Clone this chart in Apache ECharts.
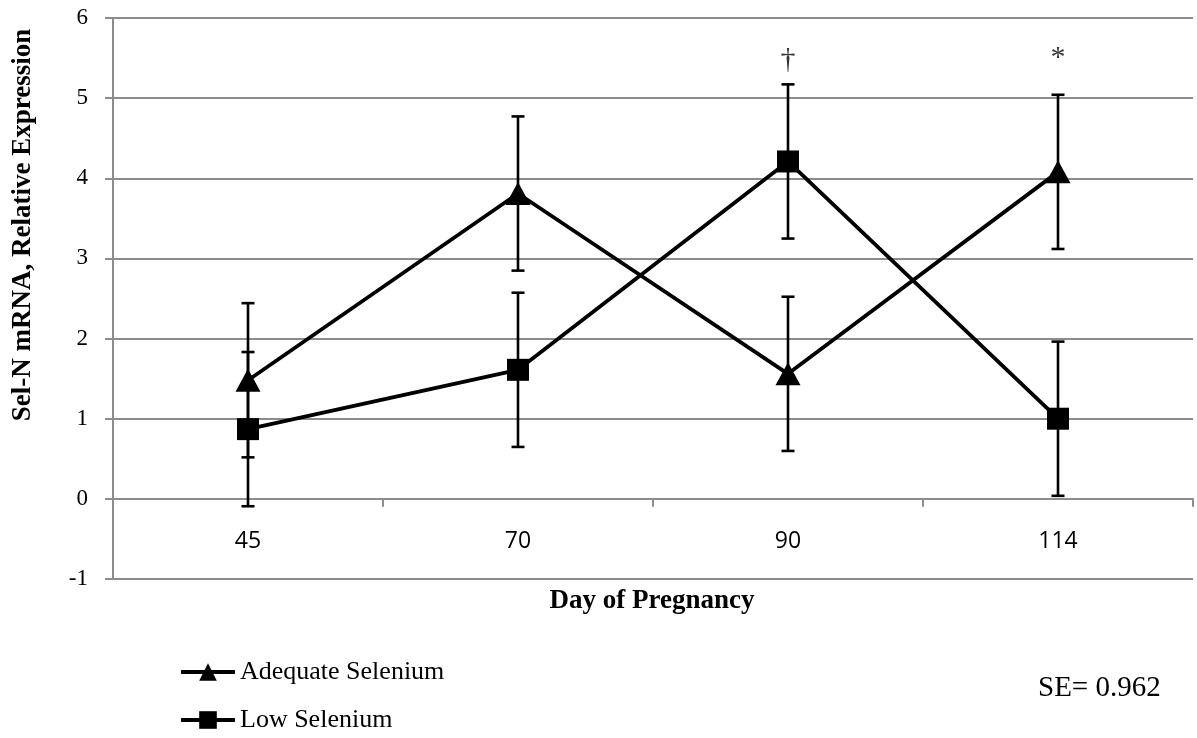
<!DOCTYPE html>
<html>
<head>
<meta charset="utf-8">
<script src="https://cdn.jsdelivr.net/npm/echarts@6/dist/echarts.min.js"></script>
<style>
html,body{margin:0;padding:0;background:#fff;}
#chart{width:1197px;height:738px;}
</style>
</head>
<body>
<div id="chart"></div>
<script>
const categories = ['45', '70', '90', '114'];
const adequateSelenium = [1.48, 3.81, 1.56, 4.08];
const lowSelenium = [0.87, 1.61, 4.21, 1.00];
const standardError = 0.962;
const annotations = [
  { category: '90', value: 5.47, text: '\u2020' },
  { category: '114', value: 5.50, text: '*' }
];
const yTicks = { min: -1, max: 6, interval: 1 };

const serif = '"Liberation Serif", "Times New Roman", serif';
const gridColor = '#8c8c8c';

function errData(vals) {
  return vals.map((v, i) => [i, v, standardError]);
}

function renderErr(params, api) {
  const x = api.value(0), y = api.value(1), e = api.value(2);
  const top = api.coord([x, y + e]);
  const bot = api.coord([x, y - e]);
  const cw = 6.5;
  const style = { stroke: '#000', lineWidth: 2.6 };
  return {
    type: 'group',
    children: [
      { type: 'line', shape: { x1: top[0], y1: top[1], x2: bot[0], y2: bot[1] }, style },
      { type: 'line', shape: { x1: top[0] - cw, y1: top[1], x2: top[0] + cw, y2: top[1] }, style },
      { type: 'line', shape: { x1: bot[0] - cw, y1: bot[1], x2: bot[0] + cw, y2: bot[1] }, style }
    ]
  };
}

const chart = echarts.init(document.getElementById('chart'));
chart.setOption({
  animation: false,
  backgroundColor: '#fff',
  grid: { left: 113, right: 4, top: 18, height: 561 },
  xAxis: {
    type: 'category',
    data: categories,
    boundaryGap: true,
    axisLine: { onZero: true, lineStyle: { color: gridColor, width: 2 } },
    axisTick: { show: true, length: 8, interval: 0, lineStyle: { color: gridColor, width: 2 } },
    axisLabel: { margin: -49, color: '#000', fontFamily: '"Open Sans", sans-serif', fontSize: 23 },
    splitLine: { show: false }
  },
  yAxis: {
    type: 'value',
    min: yTicks.min, max: yTicks.max, interval: yTicks.interval,
    axisLine: { show: true, onZero: false, lineStyle: { color: gridColor, width: 2 } },
    axisTick: { show: true, length: 8, lineStyle: { color: gridColor, width: 2 } },
    axisLabel: { margin: 25, color: '#000', fontFamily: serif, fontSize: 23 },
    splitLine: { show: true, lineStyle: { color: gridColor, width: 2 } }
  },
  legend: {
    orient: 'vertical',
    left: 179,
    top: 656,
    padding: 0,
    itemGap: 16,
    itemWidth: 54,
    itemHeight: 22,
    lineStyle: { width: 4, color: '#000' },
    textStyle: { fontFamily: serif, fontSize: 26, color: '#000', lineHeight: 32 },
    data: ['Adequate Selenium', 'Low Selenium']
  },
  graphic: [
    {
      type: 'text', x: 652, y: 601,
      style: { text: 'Day of Pregnancy', fontFamily: serif, fontWeight: 'bold', fontSize: 27, fill: '#000', align: 'center', verticalAlign: 'middle' }
    },
    {
      type: 'text', rotation: Math.PI / 2, x: 23, y: 225,
      style: { text: 'Sel-N mRNA, Relative Expression', fontFamily: serif, fontWeight: 'bold', fontSize: 27, fill: '#000', align: 'center', verticalAlign: 'middle' }
    },
    {
      type: 'text', x: 1038, y: 688,
      style: { text: 'SE= ' + standardError.toFixed(3), fontFamily: serif, fontSize: 29, fill: '#000', align: 'left', verticalAlign: 'middle' }
    }
  ],
  series: [
    {
      type: 'custom', name: 'errA', renderItem: renderErr, data: errData(adequateSelenium), z: 2,
      encode: { x: 0, y: 1 }
    },
    {
      type: 'custom', name: 'errL', renderItem: renderErr, data: errData(lowSelenium), z: 2,
      encode: { x: 0, y: 1 }
    },
    {
      name: 'Adequate Selenium', type: 'line', data: adequateSelenium, z: 3,
      symbol: 'triangle', symbolSize: [25, 23], showAllSymbol: true,
      lineStyle: { color: '#000', width: 3.8 }, itemStyle: { color: '#000' }
    },
    {
      name: 'Low Selenium', type: 'line', data: lowSelenium, z: 3,
      symbol: 'rect', symbolSize: 22, showAllSymbol: true,
      lineStyle: { color: '#000', width: 3.8 }, itemStyle: { color: '#000' }
    },
    {
      name: 'annotations', type: 'scatter', symbolSize: 0, z: 4,
      data: annotations.map(a => ({ value: [a.category, a.value], text: a.text })),
      label: { show: true, position: 'inside', formatter: p => p.data.text, fontFamily: serif, fontSize: 30, color: '#000' }
    }
  ]
});
</script>
</body>
</html>
